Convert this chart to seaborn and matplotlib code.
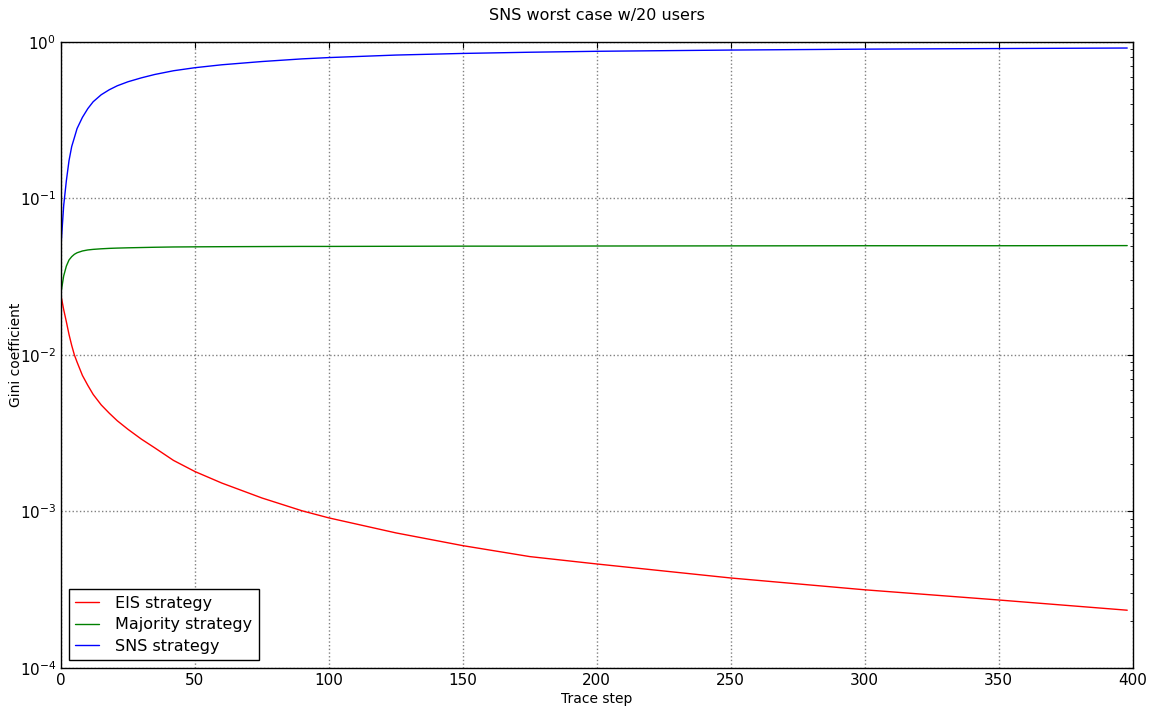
import seaborn as sns
import numpy as np
import pandas as pd
import matplotlib
matplotlib.use("Agg")
import matplotlib.pyplot as plt

# values (trace step -> Gini coefficient)
steps = [0, 1, 2, 3, 4, 5, 6, 8, 10, 12, 15, 18, 21, 25, 30, 35, 42, 50, 60, 75,
         90, 100, 125, 150, 175, 200, 250, 300, 350, 398]
eis = [0.024, 0.0195, 0.0163, 0.0135, 0.0115, 0.0100, 0.0090, 0.0074, 0.0064, 0.0056,
       0.0048, 0.00425, 0.0038, 0.00335, 0.0029, 0.00255, 0.00212, 0.0018, 0.00152, 0.00122,
       0.00101, 0.00091, 0.00073, 0.000605, 0.000515, 0.000462, 0.000376, 0.000316, 0.000272, 0.000234]
majority = [0.025, 0.032, 0.037, 0.0405, 0.0425, 0.0440, 0.0450, 0.0462, 0.0469, 0.0473,
            0.0477, 0.0480, 0.0482, 0.0484, 0.0486, 0.0488, 0.0490, 0.0491, 0.0492, 0.0493,
            0.0494, 0.0494, 0.0495, 0.0496, 0.0496, 0.0497, 0.0498, 0.0499, 0.0499, 0.0500]
sns_strategy = [0.05, 0.09, 0.13, 0.175, 0.215, 0.245, 0.28, 0.33, 0.375, 0.415,
                0.46, 0.495, 0.525, 0.557, 0.59, 0.62, 0.655, 0.685, 0.715, 0.75,
                0.78, 0.795, 0.825, 0.845, 0.86, 0.872, 0.888, 0.90, 0.908, 0.915]
labels = ["EIS strategy", "Majority strategy", "SNS strategy"]
colors = ["red", "green", "blue"]

df = pd.DataFrame({
    "step": steps * 3,
    "gini": eis + majority + sns_strategy,
    "strategy": [labels[0]] * len(steps) + [labels[1]] * len(steps) + [labels[2]] * len(steps),
})

sns.set_style("white")
plt.rcParams.update({
    "xtick.direction": "in", "ytick.direction": "in",
    "xtick.top": True, "ytick.right": True,
    "xtick.major.size": 4, "ytick.major.size": 4,
    "ytick.minor.size": 2, "ytick.minor.visible": True,
    "axes.edgecolor": "black", "axes.linewidth": 1.0,
    "text.color": "black", "axes.labelcolor": "black",
    "xtick.color": "black", "ytick.color": "black",
})

fig = plt.figure(figsize=(11.51, 7.08), dpi=100)
ax = fig.add_axes([0.053, 0.0565, 0.931, 0.8842])
sns.lineplot(data=df, x="step", y="gini", hue="strategy", palette=dict(zip(labels, colors)),
             linewidth=1.0, ax=ax)
ax.set_yscale("log")
ax.set_xlim(0, 400)
ax.set_ylim(1e-4, 1)
ax.grid(True, color="gray", linestyle=":", linewidth=1.0)
ax.tick_params(labelsize=11)
ax.set_xlabel("Trace step", fontsize=10, labelpad=3)
ax.set_ylabel("Gini coefficient", fontsize=10)
ax.yaxis.set_label_coords(-0.035, 0.5)
fig.text(0.5187, 0.978, "SNS worst case w/20 users", fontsize=11.5, ha="center", va="center")

leg = ax.legend(loc="lower left", fontsize=11.5, handlelength=1.5, handletextpad=1.0,
                labelspacing=0.4, borderaxespad=0.5, fancybox=False,
                framealpha=1, edgecolor="black", borderpad=0.4)
leg.get_frame().set_linewidth(1.0)

fig.savefig("out.png", dpi=100)
